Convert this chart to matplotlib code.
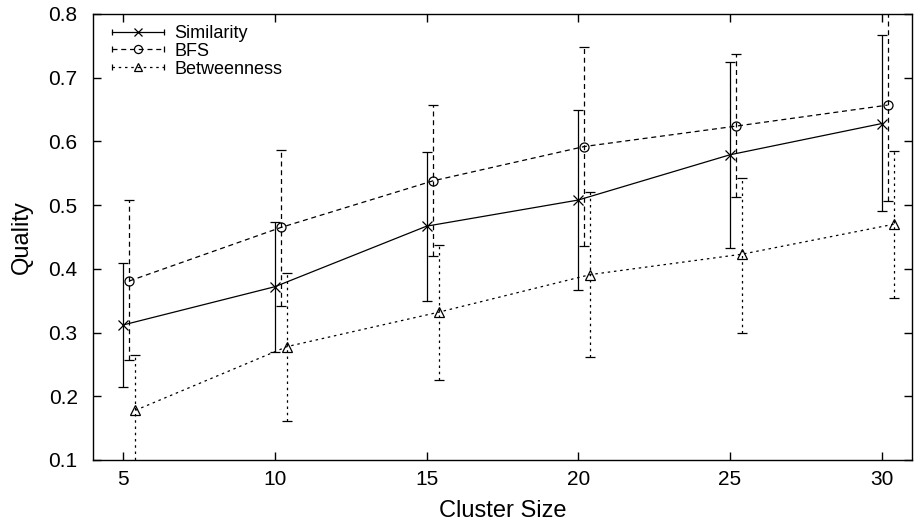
import matplotlib
matplotlib.use('Agg')
import matplotlib.pyplot as plt
from matplotlib.legend_handler import HandlerBase
from matplotlib.lines import Line2D

plt.rcParams['font.family'] = ['Liberation Sans', 'DejaVu Sans']

cluster_size = [5, 10, 15, 20, 25, 30]

# Similarity (drawn at the cluster size)
sim = [0.312, 0.372, 0.467, 0.508, 0.579, 0.628]
sim_lo = [0.214, 0.269, 0.350, 0.367, 0.432, 0.491]
sim_hi = [0.409, 0.473, 0.584, 0.649, 0.725, 0.767]

# BFS (shifted +0.2)
bfs = [0.381, 0.465, 0.538, 0.592, 0.624, 0.657]
bfs_lo = [0.257, 0.342, 0.420, 0.436, 0.512, 0.506]
bfs_hi = [0.508, 0.587, 0.657, 0.748, 0.737, 0.830]

# Betweenness (shifted +0.4)
btw = [0.178, 0.278, 0.332, 0.391, 0.423, 0.470]
btw_lo = [0.090, 0.161, 0.225, 0.262, 0.300, 0.354]
btw_hi = [0.265, 0.394, 0.437, 0.521, 0.543, 0.585]

series = [
    ('Similarity', 0.0, sim, sim_lo, sim_hi, '-', 'x', 6.5),
    ('BFS', 0.2, bfs, bfs_lo, bfs_hi, (0, (4, 3)), 'o', 6.5),
    ('Betweenness', 0.4, btw, btw_lo, btw_hi, (0, (2, 3)), '^', 6.5),
]


class GnuplotHandler(HandlerBase):
    # horizontal line with end caps and marker in the middle
    def create_artists(self, legend, orig_handle, xdescent, ydescent,
                       width, height, fontsize, trans):
        ls, marker, ms = orig_handle
        y = height / 2 - ydescent
        x0, x1 = -xdescent, width - xdescent
        line = Line2D([x0, x1], [y, y], color='black', lw=0.9, linestyle=ls)
        mk = Line2D([(x0 + x1) / 2], [y], marker=marker, ms=ms * 0.9,
                    mfc='none', mec='black', mew=0.9, linestyle='none')
        caps = Line2D([x0, x1], [y, y], marker='|', ms=5, mec='black',
                      mew=0.9, linestyle='none')
        for a in (line, mk, caps):
            a.set_transform(trans)
        return [line, mk, caps]


fig = plt.figure(figsize=(9.15, 5.28), dpi=100)
ax = fig.add_axes([0.1016, 0.1288, 0.895, 0.8447])

handles = []
for name, off, vals, lo, hi, ls, marker, ms in series:
    xs = [c + off for c in cluster_size]
    err = [[v - l for v, l in zip(vals, lo)], [h - v for v, h in zip(vals, hi)]]
    eb = ax.errorbar(xs, vals, yerr=err, color='black', lw=0.9, linestyle=ls,
                     marker=marker, ms=ms, mfc='none', mec='black', mew=0.9,
                     capsize=3.5, elinewidth=0.9, capthick=0.9)
    for bar in eb[2]:
        bar.set_linestyle(ls)
    handles.append((ls, marker, ms))

ax.set_xlim(4, 31)
ax.set_ylim(0.1, 0.8)
ax.set_xticks(cluster_size)
ax.set_yticks([0.1, 0.2, 0.3, 0.4, 0.5, 0.6, 0.7, 0.8])
ax.set_yticklabels(['0.1', '0.2', '0.3', '0.4', '0.5', '0.6', '0.7', '0.8'])
ax.tick_params(direction='in', top=True, right=True, length=6, width=1,
               labelsize=15)
ax.tick_params(axis='y', pad=11)
ax.tick_params(axis='x', pad=7)
for s in ax.spines.values():
    s.set_linewidth(1)

ax.set_xlabel('Cluster Size', fontsize=17, labelpad=8)
ax.set_ylabel('Quality', fontsize=17, labelpad=11)

ax.legend(handles, [s[0] for s in series],
          handler_map={tuple: GnuplotHandler()},
          loc='upper left', frameon=False, fontsize=13,
          handlelength=2.9, handletextpad=0.55, labelspacing=0.05,
          borderaxespad=0.2, bbox_to_anchor=(0.01, 1.0))

fig.savefig('out.png', dpi=100)
